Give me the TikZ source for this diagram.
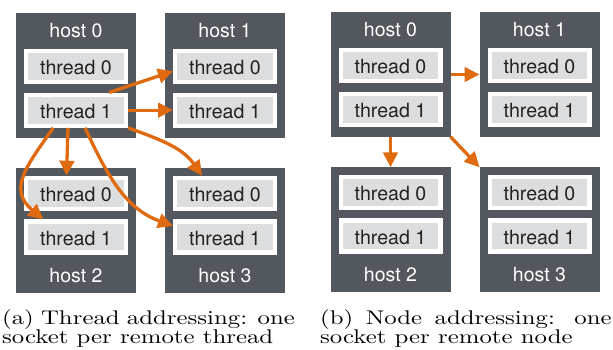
\documentclass[tikz,border=0pt]{standalone}
\usepackage{fontspec}
\newfontfamily\heros{TeX Gyre Heros}
\usetikzlibrary{arrows.meta}
\definecolor{hostgray}{RGB}{83,87,94}
\definecolor{thrgray}{RGB}{220,221,223}
\definecolor{arrorange}{RGB}{224,106,16}
\definecolor{thrtext}{RGB}{34,34,34}
\begin{document}
\begin{tikzpicture}[x=1pt,y=1pt,
  hostbox/.style={fill=hostgray, minimum width=120pt, minimum height=124.5pt, inner sep=0pt, outer sep=0pt},
  hostlabel/.style={anchor=base, text=white, font=\heros\fontsize{19.5}{20}\selectfont, inner sep=0pt},
  thrbox/.style={draw=white, line width=4.3pt, fill=thrgray, minimum width=99.7pt, minimum height=31pt, inner sep=0pt, text=thrtext, font=\heros\fontsize{19.6}{20}\selectfont, text height=16.5pt, text depth=0pt},
  conn/.style={draw=arrorange, line width=3.3pt, -{Triangle[length=15pt,width=14.5pt]}},
  capt/.style={anchor=base west, inner sep=0pt}
]
\useasboundingbox (0,0) rectangle (613,349);
\foreach \p/\dx/\dy in {a/0/0,b/314.5/1}{
  \foreach \h/\x/\y/\ly/\ta/\tb in {0/76/273.5/311.7/282.35/238.85, 1/225/273.5/311.7/282.35/238.85, 2/76/118.5/66.3/155.65/112, 3/225/118.5/66.3/155.65/112}{
    \node[hostbox] (\p-h\h) at ({\x+\dx},{\y+\dy}) {};
    \node[hostlabel] (\p-h\h l) at ({\x+\dx},{\ly+\dy}) {host \h};
    \node[thrbox] (\p-h\h t0) at ({\x+\dx},{\ta+\dy}) {thread 0};
    \node[thrbox] (\p-h\h t1) at ({\x+\dx},{\tb+\dy}) {thread 1};
  }
}
% (a) thread addressing
\draw[conn] (a-h0t1.28.5) -- (a-h1t0.185.5);
\draw[conn] (a-h0t1.east) -- (a-h1t1.west);
\draw[conn] (a-h0t1.south east) to[out=-20,in=125] ([xshift=-23pt]a-h3t0.north);
\draw[conn] ([xshift=-8pt]a-h0t1.south) -- ([xshift=-9.5pt]a-h2t0.north);
\draw[conn] ([xshift=-22.7pt]a-h0t1.south) to[out=235,in=140,looseness=1.3] ([xshift=-32.7pt]a-h2t1.north);
\draw[conn] ([xshift=9pt]a-h0t1.south) to[out=-65,in=160] (a-h3t1.168.8);
% (b) node addressing
\draw[conn] (b-h0.east) -- (b-h1.west);
\draw[conn] (b-h0.south) -- (b-h2.north);
\draw[conn] (b-h0.south east) -- (b-h3.north west);
% captions
\node[capt] (capa) at (2,24.7) {\scalebox{2.48}[1.98]{\fontsize{10}{8.6}\selectfont\begin{tabular}[t]{@{}l@{}}\makebox[118pt][s]{(a) Thread addressing: one}\\ socket per remote thread\end{tabular}}};
\node[capt] (capb) at (320,24.7) {\scalebox{2.48}[1.98]{\fontsize{10}{8.6}\selectfont\begin{tabular}[t]{@{}l@{}}\makebox[117.5pt][s]{(b) Node addressing: one}\\ socket per remote node\end{tabular}}};
\end{tikzpicture}
\end{document}
